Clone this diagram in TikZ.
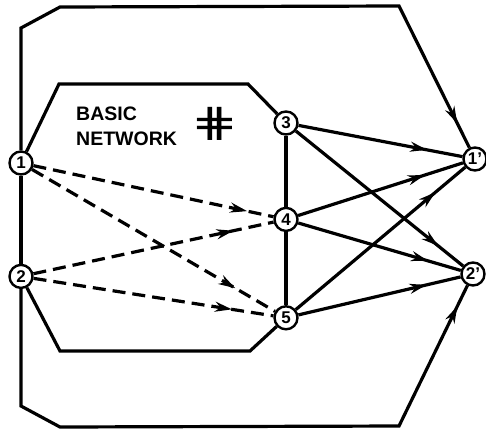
\documentclass[tikz,border=0pt]{standalone}
\usepackage{fontspec}
\setmainfont{Liberation Sans}
\newfontfamily\symbolfont{DejaVu Sans}
\usetikzlibrary{arrows.meta,positioning,decorations.markings}

\tikzset{
    netnode/.style={
        circle,                   % nodos de la red
        draw,
        line width=2.4pt,
        fill=white,
        inner sep=0pt,
        minimum size=23pt,
        font=\fontsize{17}{17}\selectfont\bfseries
    },
    edge/.style={
        line width=3.2pt          % tramo sin flecha
    },
    flow/.style={
        edge,
        postaction={decorate},
        decoration={markings,
            mark=at position -#1 with {\arrow{Stealth[length=17pt,width=10pt]}}}
    },
    flow/.default=36pt,
    dashflow/.style={
        flow=#1,
        dash pattern=on 13pt off 7pt
    },
    dashflow/.default=40pt,
    nettext/.style={
        font=\fontsize{19.5}{25}\selectfont\bfseries,
        align=left,
        inner sep=0pt
    }
}

\begin{document}
\begin{tikzpicture}[x=1pt,y=-1pt]
    \useasboundingbox (0,0) rectangle (486,429);

    \node[netnode] (n1) at (21,163) {1};
    \node[netnode, below=88pt of n1] (n2) {2};
    \node[netnode] (n3) at (286,123) {3};
    \node[netnode, below=71pt of n3] (n4) {4};
    \node[netnode, below=73pt of n4] (n5) {5};
    \node[netnode] (n1p) at (475,159) {1'};
    \node[netnode] (n2p) at (473,274) {2'};

    \node[nettext, anchor=north west] (basic) at (76,107) {BASIC\\NETWORK};
    \node[font=\symbolfont\fontsize{40}{40}\selectfont, inner sep=0pt] (hash) at (215,124) {\scalebox{1.4}[1]{⋕}};

    % esquinas del contorno exterior
    \coordinate (o1) at (21,28);
    \coordinate (o2) at (60,7);
    \coordinate (o3) at (399,6);
    \coordinate (o4) at (21,406);
    \coordinate (o5) at (60,427);
    \coordinate (o6) at (399,426);
    % esquinas de la red basica
    \coordinate (h1) at (59,84);
    \coordinate (h2) at (248,84);
    \coordinate (h3) at (60,351);
    \coordinate (h4) at (250,351);

    \draw[edge] (n1) -- (n2);
    \draw[edge] (n1) -- (h1) -- (h2) -- (n3);
    \draw[edge] (n2) -- (h3) -- (h4) -- (n5);
    \draw[edge] (n3) -- (n4);
    \draw[edge] (n4) -- (n5);

    \draw[flow=27pt] (n1) -- (o1) -- (o2) -- (o3) -- (n1p);
    \draw[flow=23pt] (n2) -- (o4) -- (o5) -- (o6) -- (n2p);

    \draw[dashflow=27pt] (n1) -- (n4);
    \draw[dashflow=46pt] (n1) -- (n5);
    \draw[dashflow=41pt] (n2) -- (n4);
    \draw[dashflow=42pt] (n2) -- (n5);

    \draw[flow] (n3) -- (n1p);
    \draw[flow=32pt] (n3) -- (n2p);
    \draw[flow=40pt] (n4) -- (n1p);
    \draw[flow=34pt] (n4) -- (n2p);
    \draw[flow=39pt] (n5) -- (n1p);
    \draw[flow=35pt] (n5) -- (n2p);
\end{tikzpicture}
\end{document}
